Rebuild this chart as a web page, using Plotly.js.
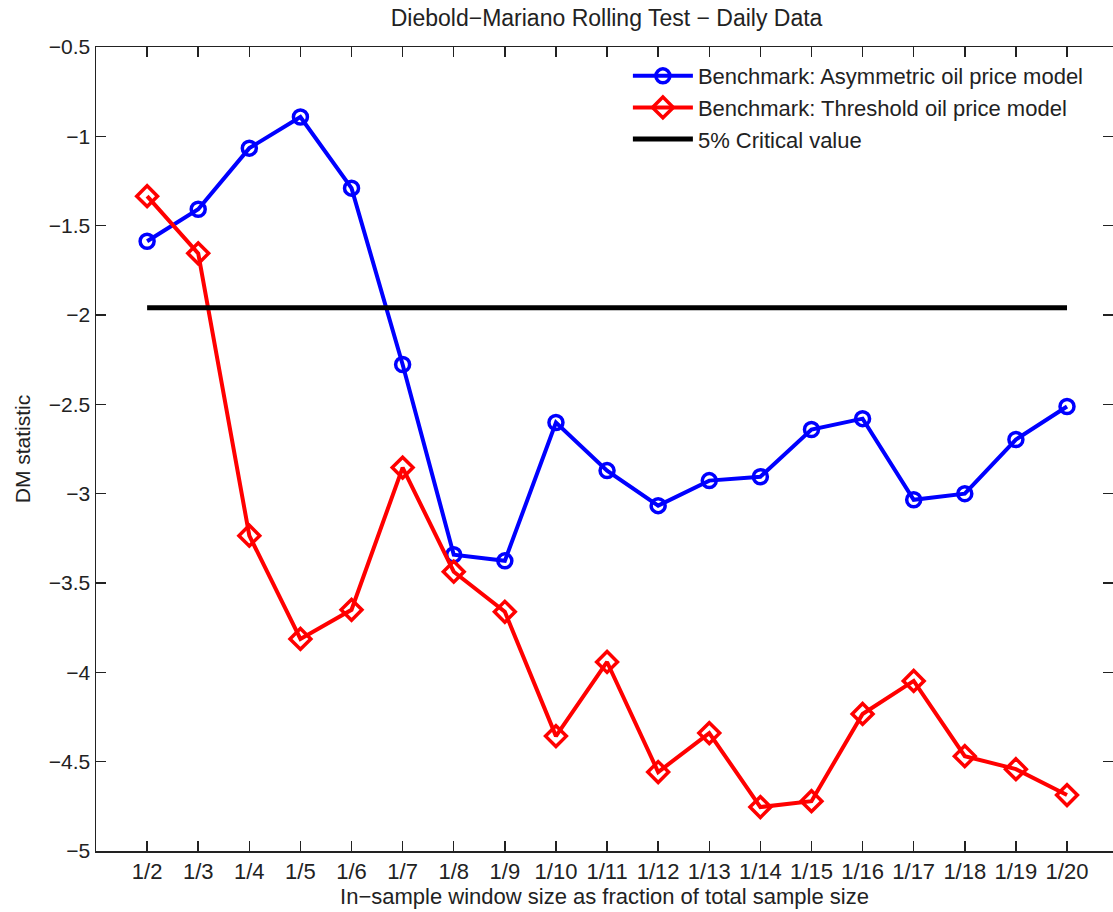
<!DOCTYPE html>
<html>
<head>
<meta charset="utf-8">
<script src="https://cdn.plot.ly/plotly-3.0.1.min.js"></script>
<style>html,body{margin:0;padding:0;background:#fff;}#chart{width:1113px;height:912px;}</style>
</head>
<body>
<div id="chart"></div>
<script>
const categories = ["1/2","1/3","1/4","1/5","1/6","1/7","1/8","1/9","1/10","1/11","1/12","1/13","1/14","1/15","1/16","1/17","1/18","1/19","1/20"];
const asymmetric = [-1.587,-1.408,-1.066,-0.892,-1.29,-2.277,-3.342,-3.376,-2.602,-2.871,-3.067,-2.927,-2.905,-2.641,-2.58,-3.034,-3.0,-2.697,-2.512];
const threshold = [-1.335,-1.655,-3.235,-3.813,-3.65,-2.854,-3.437,-3.661,-4.357,-3.942,-4.558,-4.34,-4.754,-4.721,-4.233,-4.048,-4.469,-4.542,-4.687];
const criticalValue = -1.96;
const critical = categories.map(() => criticalValue);

const xs = categories.map((c, i) => i);
const font = {family: "Liberation Sans, Arial, sans-serif", color: "#222"};

const traces = [
  {x: xs, y: asymmetric, type: "scatter", mode: "lines+markers", name: "Benchmark: Asymmetric oil price model",
   line: {color: "#0000ff", width: 4}, marker: {symbol: "circle-open", size: 14, color: "#0000ff", line: {width: 3.5, color: "#0000ff"}}},
  {x: xs, y: threshold, type: "scatter", mode: "lines+markers", name: "Benchmark: Threshold oil price model",
   line: {color: "#ff0000", width: 4}, marker: {symbol: "diamond-open", size: 16, color: "#ff0000", line: {width: 3.5, color: "#ff0000"}}},
  {x: xs, y: critical, type: "scatter", mode: "lines", name: "5% Critical value",
   line: {color: "#000000", width: 5}}
];

const layout = {
  width: 1113, height: 912,
  margin: {l: 96, r: 0, t: 47, b: 61},
  paper_bgcolor: "#fff", plot_bgcolor: "#fff",
  title: {text: "Diebold\u2212Mariano Rolling Test \u2212 Daily Data", font: Object.assign({size: 23}, font), x: 0.545, xanchor: "center", y: 0.98, yanchor: "middle"},
  xaxis: {
    range: [-1, 18.9], tickvals: xs, ticktext: categories,
    showgrid: false, zeroline: false, showline: true, linecolor: "#222", linewidth: 1.5, mirror: "ticks",
    ticks: "inside", ticklen: 10, tickcolor: "#222", tickwidth: 1.5,
    tickfont: Object.assign({size: 22}, font),
    title: {text: "In\u2212sample window size as fraction of total sample size", font: Object.assign({size: 22}, font), standoff: 4}
  },
  yaxis: {
    range: [-5, -0.5], tickvals: [-5,-4.5,-4,-3.5,-3,-2.5,-2,-1.5,-1,-0.5],
    showgrid: false, zeroline: false, showline: true, linecolor: "#222", linewidth: 1.5, mirror: "ticks",
    ticks: "inside", ticklen: 10, tickcolor: "#222", tickwidth: 1.5,
    tickfont: Object.assign({size: 21}, font),
    title: {text: "DM statistic", font: Object.assign({size: 21}, font), standoff: 12}
  },
  legend: {x: 0.523, y: 0.99, xanchor: "left", yanchor: "top", bgcolor: "rgba(255,255,255,0)", borderwidth: 0,
    font: Object.assign({size: 22}, font), tracegroupgap: 0, itemwidth: 60},
  showlegend: true
};

Plotly.newPlot("chart", traces, layout, {displayModeBar: false, staticPlot: true});
</script>
</body>
</html>
